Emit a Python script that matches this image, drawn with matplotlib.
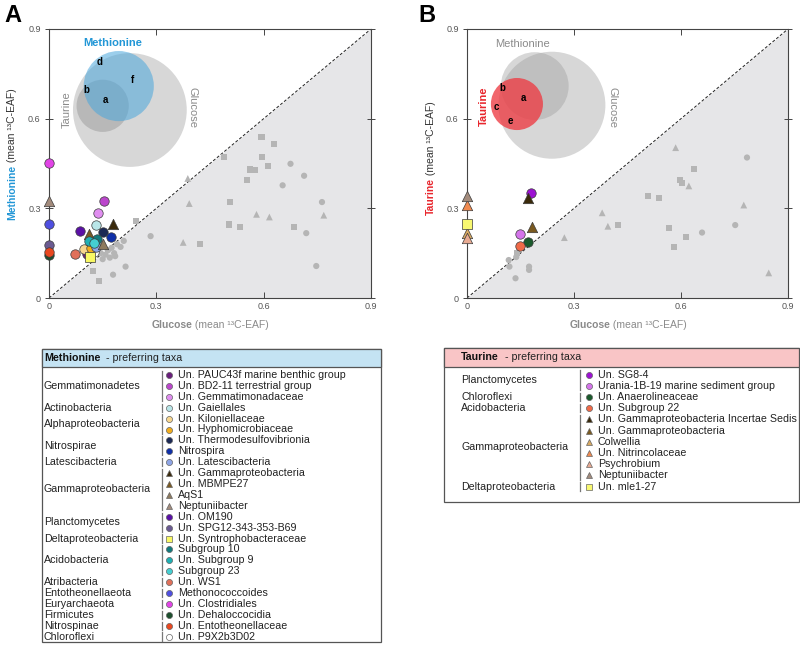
import numpy as np
import matplotlib.pyplot as plt
from matplotlib.patches import Ellipse, Rectangle

plt.rcParams['font.family'] = ['Liberation Sans', 'DejaVu Sans']

# ---------------- data ----------------
ticks = [0, 0.3, 0.6, 0.9]
tick_labels = ['0', '0.3', '0.6', '0.9']

# glucose-preferring taxa (grey), panel A : glucose EAF vs methionine EAF
A_circ_x = [0.675, 0.713, 0.653, 0.763, 0.719, 0.747, 0.284, 0.214, 0.179, 0.209, 0.200,
            0.165, 0.175, 0.158, 0.182, 0.170, 0.190, 0.150, 0.185, 0.145]
A_circ_y = [0.449, 0.409, 0.377, 0.321, 0.217, 0.107, 0.207, 0.105, 0.078, 0.191, 0.171,
            0.160, 0.168, 0.145, 0.150, 0.135, 0.180, 0.130, 0.140, 0.150]
A_sq_x = [0.594, 0.630, 0.489, 0.596, 0.612, 0.563, 0.576, 0.554, 0.507, 0.503, 0.533,
          0.684, 0.421, 0.243, 0.124, 0.140]
A_sq_y = [0.538, 0.515, 0.471, 0.473, 0.443, 0.430, 0.428, 0.395, 0.322, 0.246, 0.238,
          0.238, 0.181, 0.258, 0.091, 0.057]
A_tri_x = [0.388, 0.392, 0.580, 0.616, 0.768, 0.375]
A_tri_y = [0.400, 0.316, 0.280, 0.271, 0.277, 0.186]

# glucose-preferring taxa (grey), panel B : glucose EAF vs taurine EAF
B_circ_x = [0.785, 0.659, 0.752, 0.117, 0.119, 0.136, 0.174, 0.174, 0.138]
B_circ_y = [0.470, 0.219, 0.244, 0.127, 0.105, 0.066, 0.105, 0.094, 0.137]
B_sq_x = [0.636, 0.598, 0.603, 0.508, 0.537, 0.424, 0.566, 0.615, 0.581, 0.140]
B_sq_y = [0.432, 0.395, 0.386, 0.342, 0.335, 0.245, 0.234, 0.205, 0.170, 0.152]
B_tri_x = [0.585, 0.622, 0.379, 0.395, 0.776, 0.273, 0.846]
B_tri_y = [0.503, 0.375, 0.285, 0.240, 0.311, 0.202, 0.084]

# methionine-preferring taxa
met_phylum = ['Gemmatimonadetes', 'Gemmatimonadetes', 'Gemmatimonadetes', 'Actinobacteria',
              'Alphaproteobacteria', 'Alphaproteobacteria', 'Nitrospirae', 'Nitrospirae',
              'Latescibacteria', 'Gammaproteobacteria', 'Gammaproteobacteria',
              'Gammaproteobacteria', 'Gammaproteobacteria', 'Planctomycetes', 'Planctomycetes',
              'Deltaproteobacteria', 'Acidobacteria', 'Acidobacteria', 'Acidobacteria',
              'Atribacteria', 'Entotheonellaeota', 'Euryarchaeota', 'Firmicutes',
              'Nitrospinae', 'Chloroflexi']
met_names = ['Un. PAUC43f marine benthic group', 'Un. BD2-11 terrestrial group',
             'Un. Gemmatimonadaceae', 'Un. Gaiellales', 'Un. Kiloniellaceae',
             'Un. Hyphomicrobiaceae', 'Un. Thermodesulfovibrionia', 'Nitrospira',
             'Un. Latescibacteria', 'Un. Gammaproteobacteria', 'Un. MBMPE27', 'AqS1',
             'Neptuniibacter', 'Un. OM190', 'Un. SPG12-343-353-B69', 'Un. Syntrophobacteraceae',
             'Subgroup 10', 'Un. Subgroup 9', 'Subgroup 23', 'Un. WS1', 'Methonococcoides',
             'Un. Clostridiales', 'Un. Dehaloccocidia', 'Un. Entotheonellaceae',
             'Un. P9X2b3D02']
met_markers = ['o', 'o', 'o', 'o', 'o', 'o', 'o', 'o', 'o', '^', '^', '^', '^', 'o', 'o',
               's', 'o', 'o', 'o', 'o', 'o', 'o', 'o', 'o', 'o']
met_colors = ['#6a1f7c', '#bb47cc', '#e08ef0', '#b9e6e8', '#f7d68e', '#f2ad1c', '#1c2a55',
              '#0f2fa8', '#8ea5e6', '#3a2a0c', '#7a5a22', '#8e7b5e', '#a38b7c', '#5a10a6',
              '#6b5b92', '#f8f864', '#137a7c', '#1fb0b4', '#45cfd2', '#e0705a', '#4f4fe0',
              '#e144e6', '#1d4f2e', '#e94820', '#ffffff']
met_glc = [0.106, 0.155, 0.138, 0.131, 0.099, 0.116, 0.152, 0.174, 0.131, 0.180, 0.113,
           0.152, 0.0, 0.086, 0.0, 0.115, 0.135, 0.113, 0.125, 0.073, 0.0, 0.0, 0.0, 0.0, 0.125]
met_val = [0.146, 0.324, 0.284, 0.244, 0.163, 0.166, 0.221, 0.205, 0.172, 0.246, 0.213,
           0.180, 0.325, 0.224, 0.177, 0.138, 0.199, 0.191, 0.185, 0.146, 0.249, 0.451,
           0.143, 0.154, 0.155]

# taurine-preferring taxa
tau_phylum = ['Planctomycetes', 'Planctomycetes', 'Chloroflexi', 'Acidobacteria',
              'Gammaproteobacteria', 'Gammaproteobacteria', 'Gammaproteobacteria',
              'Gammaproteobacteria', 'Gammaproteobacteria', 'Gammaproteobacteria',
              'Deltaproteobacteria']
tau_names = ['Un. SG8-4', 'Urania-1B-19 marine sediment group', 'Un. Anaerolineaceae',
             'Un. Subgroup 22', 'Un. Gammaproteobacteria Incertae Sedis',
             'Un. Gammaproteobacteria', 'Colwellia', 'Un. Nitrincolaceae', 'Psychrobium',
             'Neptuniibacter', 'Un. mle1-27']
tau_markers = ['o', 'o', 'o', 'o', '^', '^', '^', '^', '^', '^', 's']
tau_colors = ['#9c12d2', '#d474ea', '#1b5a2c', '#f06a48', '#3a2a0a', '#7a5a20', '#d9aa62',
              '#f08a50', '#e8aa92', '#a38b7c', '#f8f870']
tau_glc = [0.180, 0.148, 0.171, 0.149, 0.171, 0.182, 0.0, 0.0, 0.0, 0.0, 0.0]
tau_val = [0.351, 0.214, 0.189, 0.174, 0.334, 0.237, 0.217, 0.312, 0.200, 0.340, 0.248]

# venn diagrams: (label, x, y, radius in x-units)
venn_A = [('Glucose', 0.226, 0.629, 0.159), ('Taurine', 0.150, 0.643, 0.073),
          ('Methionine', 0.195, 0.709, 0.098)]
venn_B = [('Glucose', 0.238, 0.645, 0.150), ('Methionine', 0.190, 0.709, 0.095),
          ('Taurine', 0.140, 0.649, 0.073)]

BLUE = '#2196d6'
RED = '#e8262d'
GREY = '#8a8a8a'
FS_LEG = 7.7

fig = plt.figure(figsize=(8, 6.5), dpi=100)
axA = fig.add_axes([49/800, 1-298/650, 322/800, 269/650])
axB = fig.add_axes([467/800, 1-298/650, 321/800, 269/650])


def setup(ax):
    ax.set_xlim(0, 0.9)
    ax.set_ylim(0, 0.9)
    ax.fill_between([0, 0.9], [0, 0], [0, 0.9], color='#e6e6e8', lw=0, zorder=0)
    ax.plot([0, 0.9], [0, 0.9], ls=(0, (3, 2)), color='#222222', lw=0.7, zorder=1)
    ax.set_xticks(ticks)
    ax.set_xticklabels(tick_labels)
    ax.set_yticks(ticks)
    ax.set_yticklabels(tick_labels)
    for sp in ax.spines.values():
        sp.set_color('#444444')
        sp.set_linewidth(0.8)
    ax.tick_params(direction='in', length=4, width=0.7, top=True, right=True,
                   labelsize=6.5, labelcolor='#555555', color='#444444', pad=3)
    ax.tick_params(axis='y', which='both', left=True, direction='inout', length=6)


def venn(ax, circles, colors, alphas):
    bb = ax.get_position()
    ratio = (bb.width * 800) / (bb.height * 650)
    for (name, cx, cy, r), fc, a in zip(circles, colors, alphas):
        ax.add_patch(Ellipse((cx, cy), 2*r, 2*r*ratio, fc=fc, ec='none', alpha=a, zorder=2))


def grey_points(ax, cx, cy, sx, sy, tx, ty):
    kw = dict(c='#b5b5b5', edgecolors='none', zorder=3)
    ax.scatter(cx, cy, s=20, marker='o', **kw)
    ax.scatter(sx, sy, s=19, marker='s', **kw)
    ax.scatter(tx, ty, s=24, marker='^', **kw)


def taxa_points(ax, gx, vy, markers, colors):
    for x, y, m, c in zip(gx, vy, markers, colors):
        s = 46 if m == 'o' else (56 if m == '^' else 54)
        z = 4 if c == '#ffffff' else 5
        ax.scatter([x], [y], s=s, marker=m, c=c, edgecolors='#3a3a3a', linewidths=0.5,
                   zorder=z, clip_on=False)


setup(axA)
setup(axB)

venn(axA, venn_A, ['#9b9b9b', '#8a8a8a', '#4aa6dc'], [0.4, 0.4, 0.55])
venn(axB, venn_B, ['#9b9b9b', '#9b9b9b', '#ee3b43'], [0.4, 0.4, 0.78])

grey_points(axA, A_circ_x, A_circ_y, A_sq_x, A_sq_y, A_tri_x, A_tri_y)
grey_points(axB, B_circ_x, B_circ_y, B_sq_x, B_sq_y, B_tri_x, B_tri_y)
taxa_points(axA, met_glc, met_val, met_markers, met_colors)
taxa_points(axB, tau_glc, tau_val, tau_markers, tau_colors)

# venn labels
axA.text(0.178, 0.852, 'Methionine', color=BLUE, weight='bold', fontsize=8, ha='center', va='center')
axA.text(0.05, 0.629, 'Taurine', color=GREY, fontsize=8, rotation=90, ha='center', va='center')
axA.text(0.402, 0.636, 'Glucose', color=GREY, fontsize=8, rotation=270, ha='center', va='center')
for lab, x, y in [('d', 0.142, 0.79), ('f', 0.2345, 0.73), ('b', 0.1055, 0.696), ('a', 0.159, 0.663)]:
    axA.text(x, y, lab, weight='bold', fontsize=7, ha='center', va='center', zorder=4)

axB.text(0.157, 0.851, 'Methionine', color=GREY, fontsize=8, ha='center', va='center')
axB.text(0.046, 0.64, 'Taurine', color=RED, weight='bold', fontsize=8, rotation=90, ha='center', va='center')
axB.text(0.407, 0.636, 'Glucose', color=GREY, fontsize=8, rotation=270, ha='center', va='center')
for lab, x, y in [('b', 0.099, 0.703), ('a', 0.158, 0.67), ('c', 0.082, 0.64), ('e', 0.121, 0.593)]:
    axB.text(x, y, lab, weight='bold', fontsize=7, ha='center', va='center', zorder=4)

# overlay in pixel coordinates for labels and legend boxes
ov = fig.add_axes([0, 0, 1, 1])
ov.set_xlim(0, 800)
ov.set_ylim(650, 0)
ov.axis('off')

ov.text(4, 15, 'A', fontsize=17, weight='bold', va='center')
ov.text(418, 15, 'B', fontsize=17, weight='bold', va='center')


def two_part(x, y, p1, c1, p2, c2, fs, vertical=False, center=False):
    rot = 90 if vertical else 0
    kw = dict(fontsize=fs, rotation=rot, rotation_mode='anchor', ha='left', va='center')
    t1 = ov.text(x, y, p1, color=c1, weight='bold', **kw)
    t2 = ov.text(x, y, p2, color=c2, **kw)
    fig.canvas.draw()
    e1 = t1.get_window_extent()
    e2 = t2.get_window_extent()
    if vertical:
        start = y + (e1.height + e2.height) / 2 if center else y
        t1.set_y(start)
        t2.set_y(start - e1.height)
    else:
        start = x - (e1.width + e2.width) / 2 if center else x
        t1.set_x(start)
        t2.set_x(start + e1.width)


two_part(210, 325, 'Glucose', GREY, ' (mean ¹³C-EAF)', GREY, 7.5, center=True)
two_part(628, 325, 'Glucose', GREY, ' (mean ¹³C-EAF)', GREY, 7.5, center=True)
two_part(12, 220, 'Methionine', BLUE, ' (mean ¹³C-EAF)', '#333333', 7.5, vertical=True)
two_part(431, 215, 'Taurine', RED, ' (mean ¹³C-EAF)', '#333333', 7.5, vertical=True)


def legend_box(x0, x1, y_top, y_hdr, y_bot, fill, title, phyla, names, markers, colors,
               row0, dy, xp, xbar, xm, xl):
    ov.add_patch(Rectangle((x0, y_top), x1 - x0, y_bot - y_top, fill=False, ec='#555555', lw=0.9))
    ov.add_patch(Rectangle((x0, y_top), x1 - x0, y_hdr - y_top, fc=fill, ec='#555555', lw=0.9))
    two_part(xp, (y_top + y_hdr) / 2, title, '#111111', '  - preferring taxa', '#222222', FS_LEG)
    ys = [row0 + i * dy for i in range(len(names))]
    for y, n, m, c in zip(ys, names, markers, colors):
        ov.plot(xm, y, marker=m, ms=4.4 if m != 's' else 4.8, mfc=c, mec='#666666', mew=0.5, ls='none')
        ov.text(xl, y, n, fontsize=FS_LEG, va='center', ha='left', color='#222222')
    i = 0
    while i < len(phyla):
        j = i
        while j + 1 < len(phyla) and phyla[j + 1] == phyla[i]:
            j += 1
        ov.text(xp, (ys[i] + ys[j]) / 2, phyla[i], fontsize=FS_LEG, va='center', ha='left', color='#222222')
        ov.plot([xbar, xbar], [ys[i] - 0.38 * dy, ys[j] + 0.38 * dy], color='#777777', lw=0.9)
        i = j + 1


legend_box(42, 381, 349, 367, 642, '#c4e3f3', 'Methionine', met_phylum, met_names,
           met_markers, met_colors, 375, 10.9, 44, 162, 169, 178)
legend_box(444, 799, 348, 367, 502, '#f9c5c6', 'Taurine', tau_phylum, tau_names,
           tau_markers, tau_colors, 374.5, 11.2, 461, 580, 589, 598)

fig.savefig('out.png', dpi=100)
